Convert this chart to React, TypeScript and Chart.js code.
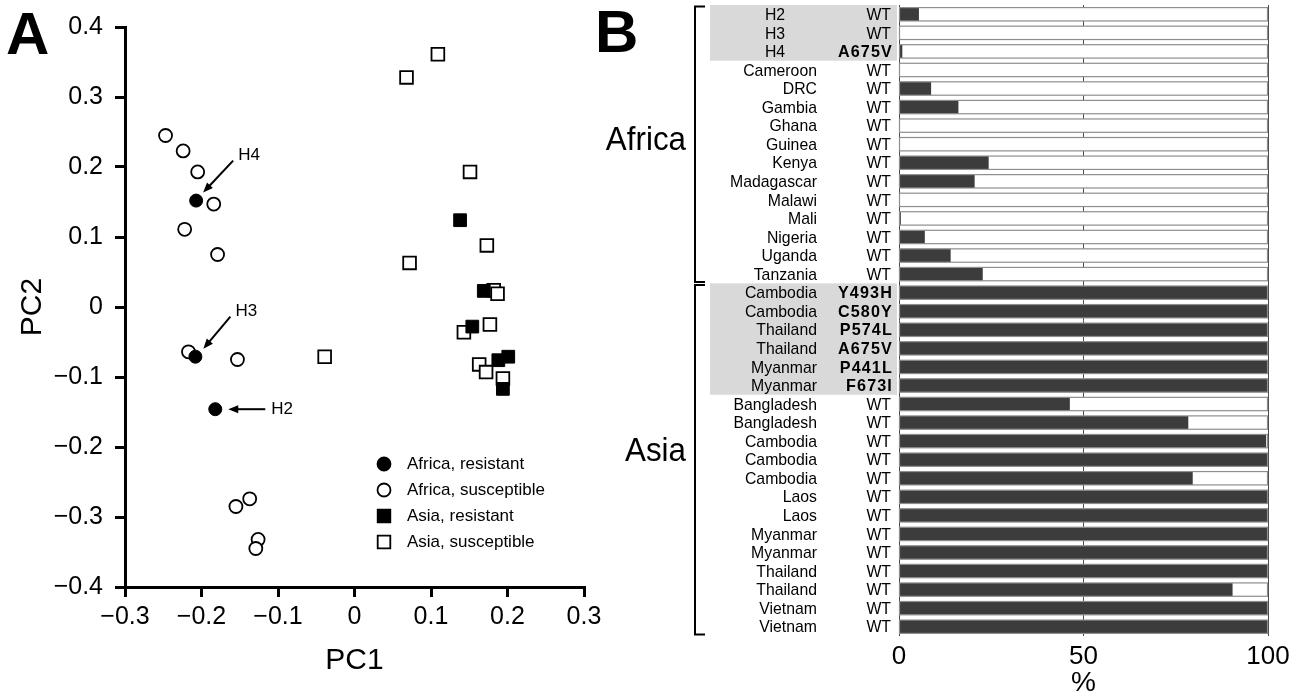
import React, { useEffect, useRef } from 'react';
import { Chart, registerables } from 'chart.js';

Chart.register(...registerables);

const FONT = '"Liberation Sans", Arial, Helvetica, sans-serif';

// ---------- Panel A data (PCA) ----------
const africaResistant = [
  { x: -0.207, y: 0.152 },
  { x: -0.208, y: -0.071 },
  { x: -0.182, y: -0.146 },
];
const africaResistantTags = ['H4', 'H3', 'H2'];

const africaSusceptible = [
  { x: -0.247, y: 0.245 },
  { x: -0.224, y: 0.223 },
  { x: -0.205, y: 0.193 },
  { x: -0.184, y: 0.147 },
  { x: -0.222, y: 0.111 },
  { x: -0.179, y: 0.075 },
  { x: -0.217, y: -0.064 },
  { x: -0.153, y: -0.075 },
  { x: -0.137, y: -0.274 },
  { x: -0.155, y: -0.285 },
  { x: -0.126, y: -0.332 },
  { x: -0.129, y: -0.345 },
];

const asiaResistant = [
  { x: 0.138, y: 0.124 },
  { x: 0.169, y: 0.023 },
  { x: 0.154, y: -0.028 },
  { x: 0.188, y: -0.076 },
  { x: 0.201, y: -0.071 },
  { x: 0.194, y: -0.117 },
];

const asiaSusceptible = [
  { x: 0.068, y: 0.328 },
  { x: 0.109, y: 0.361 },
  { x: 0.151, y: 0.193 },
  { x: 0.173, y: 0.088 },
  { x: 0.072, y: 0.063 },
  { x: 0.182, y: 0.024 },
  { x: 0.187, y: 0.019 },
  { x: 0.177, y: -0.025 },
  { x: 0.143, y: -0.036 },
  { x: 0.163, y: -0.082 },
  { x: 0.172, y: -0.093 },
  { x: 0.194, y: -0.102 },
  { x: -0.039, y: -0.071 },
];

const seriesNames = ['Africa, resistant', 'Africa, susceptible', 'Asia, resistant', 'Asia, susceptible'];
const pc1Range = [-0.3, 0.3];
const pc2Range = [-0.4, 0.4];
const pcStep = 0.1;

// ---------- Panel B data ----------
const sampleNames = [
  'H2', 'H3', 'H4', 'Cameroon', 'DRC', 'Gambia', 'Ghana', 'Guinea', 'Kenya', 'Madagascar',
  'Malawi', 'Mali', 'Nigeria', 'Uganda', 'Tanzania',
  'Cambodia', 'Cambodia', 'Thailand', 'Thailand', 'Myanmar', 'Myanmar',
  'Bangladesh', 'Bangladesh', 'Cambodia', 'Cambodia', 'Cambodia', 'Laos', 'Laos',
  'Myanmar', 'Myanmar', 'Thailand', 'Thailand', 'Vietnam', 'Vietnam',
];
const genotypes = [
  'WT', 'WT', 'A675V', 'WT', 'WT', 'WT', 'WT', 'WT', 'WT', 'WT',
  'WT', 'WT', 'WT', 'WT', 'WT',
  'Y493H', 'C580Y', 'P574L', 'A675V', 'P441L', 'F673I',
  'WT', 'WT', 'WT', 'WT', 'WT', 'WT', 'WT',
  'WT', 'WT', 'WT', 'WT', 'WT', 'WT',
];
const resistantPct = [
  5.4, 0, 0.9, 0, 8.7, 16.1, 0, 0, 24.3, 20.5,
  0, 0.5, 7.0, 14.0, 22.7,
  100, 100, 100, 100, 100, 100,
  46.3, 78.4, 99.5, 99.9, 79.6, 100, 100,
  100, 100, 100, 90.4, 100, 100,
];
const regionNames = ['Africa', 'Asia'];
const regionRows = [[0, 14], [15, 33]];
const shadedRows = [[0, 2], [15, 20]];
const isolateRows = [0, 1, 2];
const pctRange = [0, 100];
const pctStep = 50;

const fmtPC = (v: number) => {
  if (Math.abs(v) < 1e-9) return '0';
  return (v < 0 ? '\u2212' : '') + Math.abs(v).toFixed(1);
};

function drawArrow(ctx: CanvasRenderingContext2D, x1: number, y1: number, x2: number, y2: number) {
  const ang = Math.atan2(y2 - y1, x2 - x1);
  const head = 10;
  const hw = 4;
  ctx.save();
  ctx.strokeStyle = '#000';
  ctx.fillStyle = '#000';
  ctx.lineWidth = 2;
  ctx.beginPath();
  ctx.moveTo(x1, y1);
  ctx.lineTo(x2 - Math.cos(ang) * head * 0.8, y2 - Math.sin(ang) * head * 0.8);
  ctx.stroke();
  ctx.beginPath();
  ctx.moveTo(x2, y2);
  ctx.lineTo(x2 - Math.cos(ang) * head - Math.sin(ang) * hw, y2 - Math.sin(ang) * head + Math.cos(ang) * hw);
  ctx.lineTo(x2 - Math.cos(ang) * head + Math.sin(ang) * hw, y2 - Math.sin(ang) * head - Math.cos(ang) * hw);
  ctx.closePath();
  ctx.fill();
  ctx.restore();
}

function narrowText(
  ctx: CanvasRenderingContext2D,
  text: string,
  x: number,
  y: number,
  align: CanvasTextAlign,
  font: string,
  sx: number,
  spacing = 0,
) {
  ctx.save();
  ctx.font = font;
  (ctx as any).letterSpacing = `${spacing}px`;
  ctx.textAlign = align;
  ctx.textBaseline = 'middle';
  ctx.translate(x, y);
  ctx.scale(sx, 1);
  ctx.fillText(text, 0, 0);
  ctx.restore();
}

const scatterDecor = {
  id: 'scatterDecor',
  afterDraw(chart: any) {
    const ctx: CanvasRenderingContext2D = chart.ctx;
    const xs = chart.scales.x;
    const ys = chart.scales.y;
    ctx.save();
    ctx.fillStyle = '#000';
    ctx.font = `bold 60px ${FONT}`;
    ctx.textAlign = 'left';
    ctx.textBaseline = 'alphabetic';
    ctx.fillText('A', 6, 54);

    const offsets = [
      { tip: [7, -8], tail: [37, -40], lab: [42, -45] },
      { tip: [8, -8], tail: [35, -40], lab: [40, -45] },
      { tip: [13, 0], tail: [50, 0], lab: [56, 0] },
    ];
    ctx.font = `17px ${FONT}`;
    ctx.textBaseline = 'middle';
    africaResistant.forEach((p, i) => {
      const px = xs.getPixelForValue(p.x);
      const py = ys.getPixelForValue(p.y);
      const o = offsets[i];
      drawArrow(ctx, px + o.tail[0], py + o.tail[1], px + o.tip[0], py + o.tip[1]);
      ctx.fillStyle = '#000';
      ctx.fillText(africaResistantTags[i], px + o.lab[0], py + o.lab[1]);
    });

    const lx = 384;
    const ly0 = 464;
    const dy = 26;
    chart.data.datasets.forEach((ds: any, i: number) => {
      const cy = ly0 + i * dy;
      ctx.lineWidth = 1.8;
      ctx.strokeStyle = '#000';
      ctx.fillStyle = ds.backgroundColor;
      ctx.beginPath();
      if (ds.pointStyle === 'circle') {
        ctx.arc(lx, cy, 6.5, 0, Math.PI * 2);
      } else {
        ctx.rect(lx - 6.3, cy - 6.3, 12.6, 12.6);
      }
      ctx.fill();
      ctx.stroke();
      ctx.fillStyle = '#000';
      ctx.font = `17px ${FONT}`;
      ctx.textAlign = 'left';
      ctx.textBaseline = 'middle';
      ctx.fillText(ds.label, lx + 23, cy);
    });
    ctx.restore();
  },
};

const barDecor = {
  id: 'barDecor',
  beforeDatasetsDraw(chart: any) {
    const ctx: CanvasRenderingContext2D = chart.ctx;
    const xs = chart.scales.x;
    const meta = chart.getDatasetMeta(0);
    const x0 = xs.getPixelForValue(pctRange[0]);
    const x1 = xs.getPixelForValue(pctRange[1]);
    ctx.save();
    ctx.fillStyle = '#ffffff';
    meta.data.forEach((el: any) => {
      ctx.fillRect(x0, el.y - el.height / 2, x1 - x0, el.height);
    });
    ctx.restore();
  },
  afterDatasetsDraw(chart: any) {
    const ctx: CanvasRenderingContext2D = chart.ctx;
    const xs = chart.scales.x;
    const meta = chart.getDatasetMeta(0);
    const x0 = xs.getPixelForValue(pctRange[0]);
    const x1 = xs.getPixelForValue(pctRange[1]);
    ctx.save();
    ctx.strokeStyle = '#8e8e8e';
    ctx.lineWidth = 1.2;
    meta.data.forEach((el: any) => {
      ctx.strokeRect(x0 + 0.5, el.y - el.height / 2, x1 - x0 - 1, el.height);
    });
    ctx.restore();
  },
  afterDraw(chart: any) {
    const ctx: CanvasRenderingContext2D = chart.ctx;
    const ys = chart.scales.y;
    const area = chart.chartArea;
    const band = (area.bottom - area.top) / sampleNames.length;
    const L = area.left;
    const rowTop = (i: number) => ys.getPixelForValue(i) - band / 2;
    const rowBot = (i: number) => ys.getPixelForValue(i) + band / 2;
    ctx.save();

    ctx.fillStyle = '#d9d9d9';
    shadedRows.forEach(([a, b]) => {
      ctx.fillRect(L - 189, rowTop(a), 187, rowBot(b) - rowTop(a));
    });

    ctx.fillStyle = '#000';
    const reg = `17px ${FONT}`;
    const bold = `bold 17px ${FONT}`;
    sampleNames.forEach((name, i) => {
      const y = ys.getPixelForValue(i) + 1;
      if (isolateRows.includes(i)) {
        narrowText(ctx, name, L - 124, y, 'center', reg, 0.93);
      } else {
        narrowText(ctx, name, L - 82, y, 'right', reg, 0.93);
      }
      const g = genotypes[i];
      if (g === 'WT') {
        narrowText(ctx, g, L - 8, y, 'right', reg, 0.93);
      } else {
        narrowText(ctx, g, L - 6, y, 'right', bold, 0.95, 1.2);
      }
    });

    ctx.strokeStyle = '#000';
    ctx.lineWidth = 2;
    regionRows.forEach(([a, b], k) => {
      const t = rowTop(a) + 1.5;
      const bt = rowBot(b) - 1.5;
      const bx = L - 204;
      ctx.beginPath();
      ctx.moveTo(bx + 10, t);
      ctx.lineTo(bx, t);
      ctx.lineTo(bx, bt);
      ctx.lineTo(bx + 10, bt);
      ctx.stroke();
      const mid = (rowTop(a) + rowBot(b)) / 2 - (k === 0 ? 3 : 8);
      narrowText(ctx, regionNames[k], L - 213, mid, 'right', `33px ${FONT}`, 0.95);
    });

    ctx.font = `bold 60px ${FONT}`;
    ctx.textAlign = 'left';
    ctx.textBaseline = 'alphabetic';
    ctx.fillStyle = '#000';
    ctx.fillText('B', 5, 52);
    ctx.restore();
  },
};

function ScatterPanel() {
  const ref = useRef<HTMLCanvasElement>(null);
  useEffect(() => {
    if (!ref.current) return;
    const chart = new Chart(ref.current, {
      type: 'scatter',
      data: {
        datasets: [
          { label: seriesNames[0], data: africaResistant, pointStyle: 'circle', pointRadius: 6.5, backgroundColor: '#000', borderColor: '#000', borderWidth: 1 },
          { label: seriesNames[1], data: africaSusceptible, pointStyle: 'circle', pointRadius: 6.5, backgroundColor: '#fff', borderColor: '#000', borderWidth: 1.8 },
          { label: seriesNames[2], data: asiaResistant, pointStyle: 'rect', pointRadius: 9, backgroundColor: '#000', borderColor: '#000', borderWidth: 1 },
          { label: seriesNames[3], data: asiaSusceptible, pointStyle: 'rect', pointRadius: 9, backgroundColor: '#fff', borderColor: '#000', borderWidth: 1.8 },
        ],
      } as any,
      options: {
        responsive: false,
        animation: false,
        events: [],
        layout: { padding: { left: 0, right: 26, top: 27, bottom: 0 } },
        plugins: { legend: { display: false }, tooltip: { enabled: false } },
        scales: {
          x: {
            type: 'linear',
            min: pc1Range[0],
            max: pc1Range[1],
            ticks: { stepSize: pcStep, font: { family: FONT, size: 25 }, color: '#000', padding: 5, maxRotation: 0, autoSkip: false, callback: (v: any) => fmtPC(Number(v)) },
            grid: { drawOnChartArea: false, drawTicks: true, tickLength: 10, tickWidth: 3, tickColor: '#000', color: '#000', lineWidth: 3 },
            border: { display: true, color: '#000', width: 3 },
            title: { display: true, text: 'PC1', font: { family: FONT, size: 30 }, color: '#000', padding: { top: 0, bottom: 17 } },
            afterFit: (s: any) => { s.height = 109; },
          },
          y: {
            type: 'linear',
            min: pc2Range[0],
            max: pc2Range[1],
            ticks: { stepSize: pcStep, font: { family: FONT, size: 25 }, color: '#000', padding: 12, autoSkip: false, callback: (v: any) => fmtPC(Number(v)) },
            grid: { drawOnChartArea: false, drawTicks: true, tickLength: 10, tickWidth: 3, tickColor: '#000', color: '#000', lineWidth: 3 },
            border: { display: true, color: '#000', width: 3 },
            title: { display: true, text: 'PC2', font: { family: FONT, size: 30 }, color: '#000', padding: { top: 15, bottom: 0 } },
            afterFit: (s: any) => { s.width = 125; },
          },
        },
      } as any,
      plugins: [scatterDecor],
    });
    return () => chart.destroy();
  }, []);
  return <canvas ref={ref} width={610} height={696} style={{ position: 'absolute', left: 0, top: 0, width: 610, height: 696 }} />;
}

function BarPanel() {
  const ref = useRef<HTMLCanvasElement>(null);
  useEffect(() => {
    if (!ref.current) return;
    const chart = new Chart(ref.current, {
      type: 'bar',
      data: {
        labels: sampleNames.map((n, i) => `${n} ${genotypes[i]}`),
        datasets: [
          { label: 'resistant', data: resistantPct, backgroundColor: '#3c3c3c', borderWidth: 0, barPercentage: 0.72, categoryPercentage: 1 },
        ],
      },
      options: {
        indexAxis: 'y',
        responsive: false,
        animation: false,
        events: [],
        layout: { padding: { left: 309, right: 31, top: 5, bottom: 0 } },
        plugins: { legend: { display: false }, tooltip: { enabled: false } },
        scales: {
          y: { display: false },
          x: {
            type: 'linear',
            min: pctRange[0],
            max: pctRange[1],
            ticks: { stepSize: pctStep, font: { family: FONT, size: 26 }, color: '#000', padding: 5, maxRotation: 0 },
            grid: { drawOnChartArea: true, drawTicks: false, color: '#4a4a4a', lineWidth: 1 },
            border: { display: false },
            title: { display: true, text: '%', font: { family: FONT, size: 28 }, color: '#000', padding: { top: 0, bottom: -4 } },
            afterFit: (s: any) => { s.height = 60; },
          },
        },
      } as any,
      plugins: [barDecor],
    });
    return () => chart.destroy();
  }, []);
  return <canvas ref={ref} width={709} height={696} style={{ position: 'absolute', left: 590, top: 0, width: 709, height: 696 }} />;
}

export default function App() {
  return (
    <div style={{ position: 'fixed', left: 0, top: 0, width: 1299, height: 696, background: '#fff', overflow: 'hidden' }}>
      <ScatterPanel />
      <BarPanel />
    </div>
  );
}
